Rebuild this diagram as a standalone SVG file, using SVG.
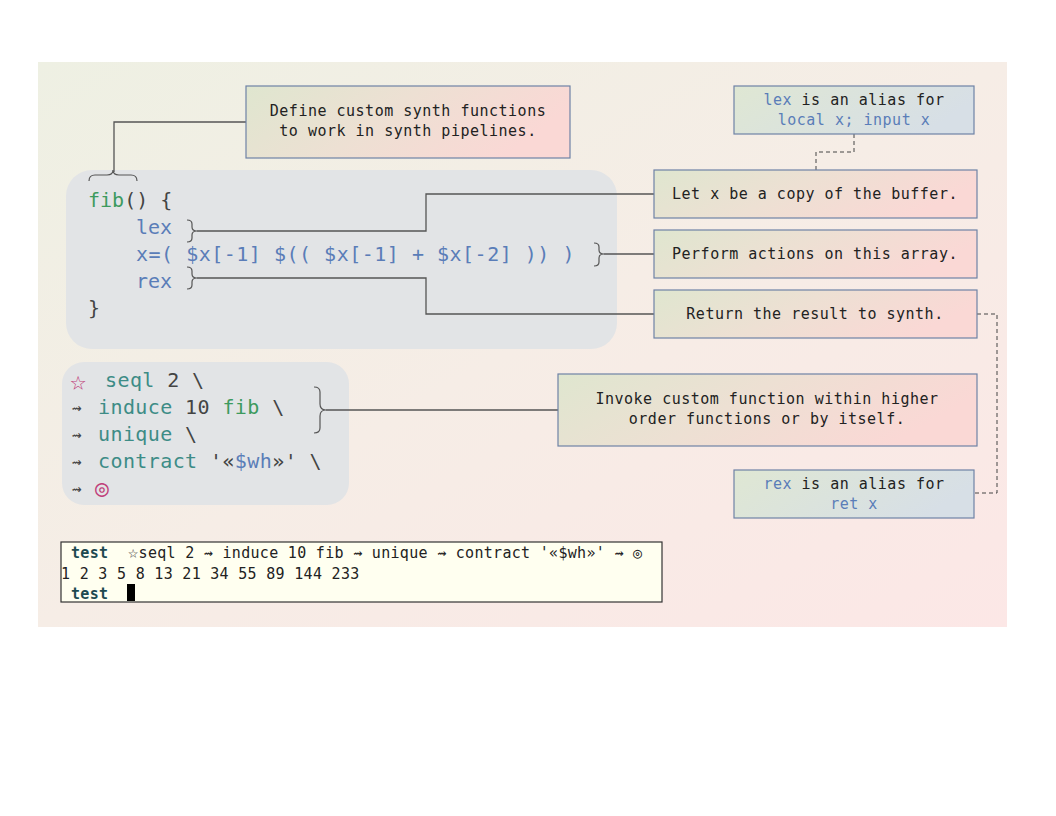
<svg xmlns="http://www.w3.org/2000/svg" width="1056" height="816" viewBox="0 0 1056 816">
<defs>
<linearGradient id="bg" x1="0" y1="0" x2="1" y2="1">
<stop offset="0" stop-color="#eef0e3"/><stop offset="0.5" stop-color="#f6ede6"/><stop offset="1" stop-color="#fce7e6"/>
</linearGradient>
<linearGradient id="note" x1="0" y1="0" x2="1" y2="0.3">
<stop offset="0" stop-color="#dfe6cf"/><stop offset="0.5" stop-color="#ede0d3"/><stop offset="1" stop-color="#fad8d5"/>
</linearGradient>
<linearGradient id="alias" x1="0" y1="0" x2="1" y2="0.3">
<stop offset="0" stop-color="#dfe7d3"/><stop offset="1" stop-color="#d7dfe6"/>
</linearGradient>
<style>
.box{stroke:#6e82a6;stroke-width:1.2}
.note{fill:url(#note)}
.alias{fill:url(#alias)}
.t{font-family:"DejaVu Sans Mono","Liberation Mono",monospace;font-size:15px;letter-spacing:0.5px;fill:#222;text-anchor:middle}
.code{font-family:"DejaVu Sans Mono","Liberation Mono",monospace;font-size:20px;fill:#444}
.term{font-family:"DejaVu Sans Mono","Liberation Mono",monospace;font-size:15px;letter-spacing:0.3px;fill:#222}
.b{fill:#5a7db8}
.g{fill:#3d9a5e}
.tl{fill:#3d8c86}
.p{fill:#c0407a}
.k{fill:#444}
.panel{fill:#e2e4e6}
.ln{fill:none;stroke:#555;stroke-width:1.3}
.br{fill:none;stroke:#555;stroke-width:1.2}
.ds{fill:none;stroke:#444;stroke-width:1;stroke-dasharray:4 3}
.ar{font-size:16px}
.star{font-size:27px}
.ring{font-size:23px}
</style>
</defs>
<rect x="38" y="62" width="969" height="565" fill="url(#bg)"/>

<g id="code1">
<rect class="panel" x="66" y="170" width="551" height="179" rx="26"/>
<text class="code" x="88" y="207"><tspan class="g">fib</tspan>() {</text>
<text class="code b" x="136" y="234">lex</text>
<text class="code b" x="136" y="261" letter-spacing="0.5">x=( $x[-1] $(( $x[-1] + $x[-2] )) )</text>
<text class="code b" x="136" y="288">rex</text>
<text class="code" x="88" y="315">}</text>
</g>

<g id="code2">
<rect class="panel" x="62" y="362" width="287" height="143" rx="22"/>
<text class="code p star" x="70" y="390">☆</text>
<text class="code" x="105" y="387" letter-spacing="0.4"><tspan class="tl">seql</tspan> 2 \</text>
<text class="code ar" x="72" y="413">⇝</text>
<text class="code" x="98" y="414" letter-spacing="0.4"><tspan class="tl">induce</tspan> 10 <tspan class="g">fib</tspan> \</text>
<text class="code ar" x="72" y="440">⇝</text>
<text class="code" x="98" y="441" letter-spacing="0.4"><tspan class="tl">unique</tspan> \</text>
<text class="code ar" x="72" y="467">⇝</text>
<text class="code" x="98" y="468" letter-spacing="0.4"><tspan class="tl">contract</tspan> '«<tspan class="b">$wh</tspan>»' \</text>
<text class="code ar" x="72" y="494">⇝</text>
<text class="code p ring" x="95" y="496">◎</text>
</g>

<g id="connectors">
<path class="br" d="M89,181 Q89,175 95,175 L107,175 Q113,175 113,170 Q113,175 119,175 L131,175 Q137,175 137,181"/>
<path class="ln" d="M114,172 V122 H246"/>
<path class="br" d="M187,220 Q192,220 192,224 V227 Q192,231 197,231 Q192,231 192,235 V238 Q192,242 187,242"/>
<path class="ln" d="M197,231 H426 V194 H654"/>
<path class="br" d="M594,243 Q599,243 599,247 V250 Q599,254 604,254 Q599,254 599,258 V262 Q599,266 594,266"/>
<path class="ln" d="M604,254 H654"/>
<path class="br" d="M187,267 Q192,267 192,271 V274 Q192,278 197,278 Q192,278 192,282 V285 Q192,289 187,289"/>
<path class="ln" d="M197,278 H426 V314 H654"/>
<path class="br" d="M314,387 Q320,387 320,392 V404 Q320,410 326,410 Q320,410 320,416 V428 Q320,433 314,433"/>
<path class="ln" d="M326,410 H558"/>
<path class="ds" d="M854,134 V152 H816 V170"/>
<path class="ds" d="M977,314 H997 V493 H974"/>
</g>

<g id="define">
<rect class="box note" x="246" y="86" width="324" height="72"/>
<text class="t" x="408" y="116">Define custom synth functions</text>
<text class="t" x="408" y="136">to work in synth pipelines.</text>
</g>
<g id="lexalias">
<rect class="box alias" x="734" y="86" width="240" height="48"/>
<text class="t" x="854" y="105"><tspan class="b">lex</tspan> is an alias for</text>
<text class="t b" x="854" y="125">local x; input x</text>
</g>
<g id="letx">
<rect class="box note" x="654" y="170" width="323" height="48"/>
<text class="t" x="815" y="199">Let x be a copy of the buffer.</text>
</g>
<g id="perform">
<rect class="box note" x="654" y="230" width="323" height="48"/>
<text class="t" x="815" y="259">Perform actions on this array.</text>
</g>
<g id="return">
<rect class="box note" x="654" y="290" width="323" height="48"/>
<text class="t" x="815" y="319">Return the result to synth.</text>
</g>
<g id="invoke">
<rect class="box note" x="558" y="374" width="419" height="72"/>
<text class="t" x="767" y="404">Invoke custom function within higher</text>
<text class="t" x="767" y="424">order functions or by itself.</text>
</g>
<g id="rexalias">
<rect class="box alias" x="734" y="470" width="240" height="48"/>
<text class="t" x="854" y="489"><tspan class="b">rex</tspan> is an alias for</text>
<text class="t b" x="854" y="509">ret x</text>
</g>

<g id="terminal">
<rect x="61" y="542" width="601" height="60" fill="#fffff0" stroke="#333" stroke-width="1.2"/>
<text class="term" x="71" y="558"><tspan font-weight="bold" fill="#1d4a50">test</tspan></text>
<text class="term" x="128" y="558" letter-spacing="0.55"><tspan style="font-size:17px">☆</tspan>seql 2 ⇝ induce 10 fib ⇝ unique ⇝ contract '«$wh»' ⇝ ◎</text>
<text class="term" x="61" y="579">1 2 3 5 8 13 21 34 55 89 144 233</text>
<text class="term" x="71" y="599"><tspan font-weight="bold" fill="#1d4a50">test</tspan></text>
<rect x="127" y="584" width="8" height="17" fill="#000"/>
</g>
</svg>
